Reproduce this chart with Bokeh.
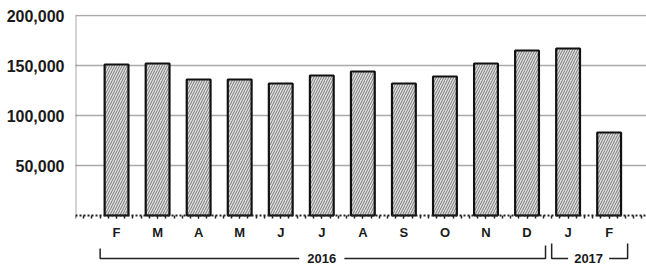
from bokeh.plotting import figure
from bokeh.models import FixedTicker, Range1d, ColumnDataSource, NumeralTickFormatter
from bokeh.core.properties import value
from bokeh.embed import file_html
from bokeh.resources import INLINE

months = ["F", "M", "A", "M", "J", "J", "A", "S", "O", "N", "D", "J", "F"]
values = [151000, 152000, 136000, 136000, 132000, 140000, 144000, 132000, 139000, 152000, 165000, 167000, 83000]
years = ["2016", "2017"]
year_first = [0, 11]
year_last = [10, 12]
y_ticks = [50000, 100000, 150000, 200000]

FONT = "Liberation Sans"
x = list(range(len(months)))

p = figure(width=646, height=266, output_backend="svg", toolbar_location=None,
           x_range=Range1d(-1.0, 12.91), y_range=Range1d(-51000, 201000),
           min_border_left=75, min_border_right=0, min_border_top=14, min_border_bottom=0)
p.outline_line_color = None
p.background_fill_color = "white"
p.border_fill_color = "white"

# grid
p.xgrid.visible = False
p.ygrid.ticker = FixedTicker(ticks=y_ticks)
p.ygrid.grid_line_color = "#555555"
p.ygrid.grid_line_dash = "1 1"
p.ygrid.grid_line_width = 1.5

# left dotted frame line (0 -> 200k)
p.line(x=[-1.0, -1.0], y=[0, y_ticks[-1]], line_color="#555555", line_dash="1 1", line_width=2)

src = ColumnDataSource(dict(x=x, top=values))
p.vbar(x="x", top="top", bottom=0, width=0.58, source=src,
       fill_color="#dedede", line_color="#111111", line_width=2.2,
       hatch_pattern="/", hatch_color="#7a7a7a", hatch_scale=5, hatch_weight=1)

# y axis
p.yaxis.ticker = FixedTicker(ticks=y_ticks)
p.yaxis.formatter = NumeralTickFormatter(format="0,0")
p.yaxis.axis_line_color = None
p.yaxis.major_tick_line_color = None
p.yaxis.minor_tick_line_color = None
p.yaxis.major_label_standoff = 5
p.yaxis.major_label_text_font = FONT
p.yaxis.major_label_text_font_size = "16px"
p.yaxis.major_label_text_font_style = "bold"
p.yaxis.major_label_text_color = "#1a1a1a"

# x axis at y = 0
minor = [round(-1.0 + 0.2 * i, 2) for i in range(70)]
p.xaxis.fixed_location = 0
p.xaxis.ticker = FixedTicker(ticks=x, minor_ticks=minor)
p.xaxis.major_label_overrides = {i: m for i, m in enumerate(months)}
p.xaxis.axis_line_color = "#222222"
p.xaxis.axis_line_dash = "2 2"
p.xaxis.axis_line_width = 2
p.xaxis.major_tick_line_color = "#222222"
p.xaxis.major_tick_in = 0
p.xaxis.major_tick_out = 3
p.xaxis.minor_tick_line_color = "#222222"
p.xaxis.minor_tick_in = 0
p.xaxis.minor_tick_out = 3
p.xaxis.minor_tick_line_width = 1.5
p.xaxis.major_label_standoff = 6
p.xaxis.major_label_text_font = FONT
p.xaxis.major_label_text_font_size = "13px"
p.xaxis.major_label_text_font_style = "bold"
p.xaxis.major_label_text_color = "#1a1a1a"

# year brackets
ybar = -43000
gaps = [0.55, 0.5]
for yr, a, b, g in zip(years, year_first, year_last, gaps):
    left = a - 0.4
    right = b + 0.45
    mid = (a + b) / 2
    p.line(x=[left, left, mid - g], y=[-33000 if a == 0 else -28000, ybar, ybar], line_color="#222222", line_width=1.5)
    p.line(x=[mid + g, right, right], y=[ybar, ybar, -30000 if a == 0 else -28000], line_color="#222222", line_width=1.5)
    p.text(x=[mid], y=[ybar], text=[yr], text_align="center", text_baseline="middle",
           text_font=value(FONT), text_font_size="13px", text_font_style="bold", text_color="#1a1a1a")

open("out.html", "w").write(file_html(p, INLINE))
